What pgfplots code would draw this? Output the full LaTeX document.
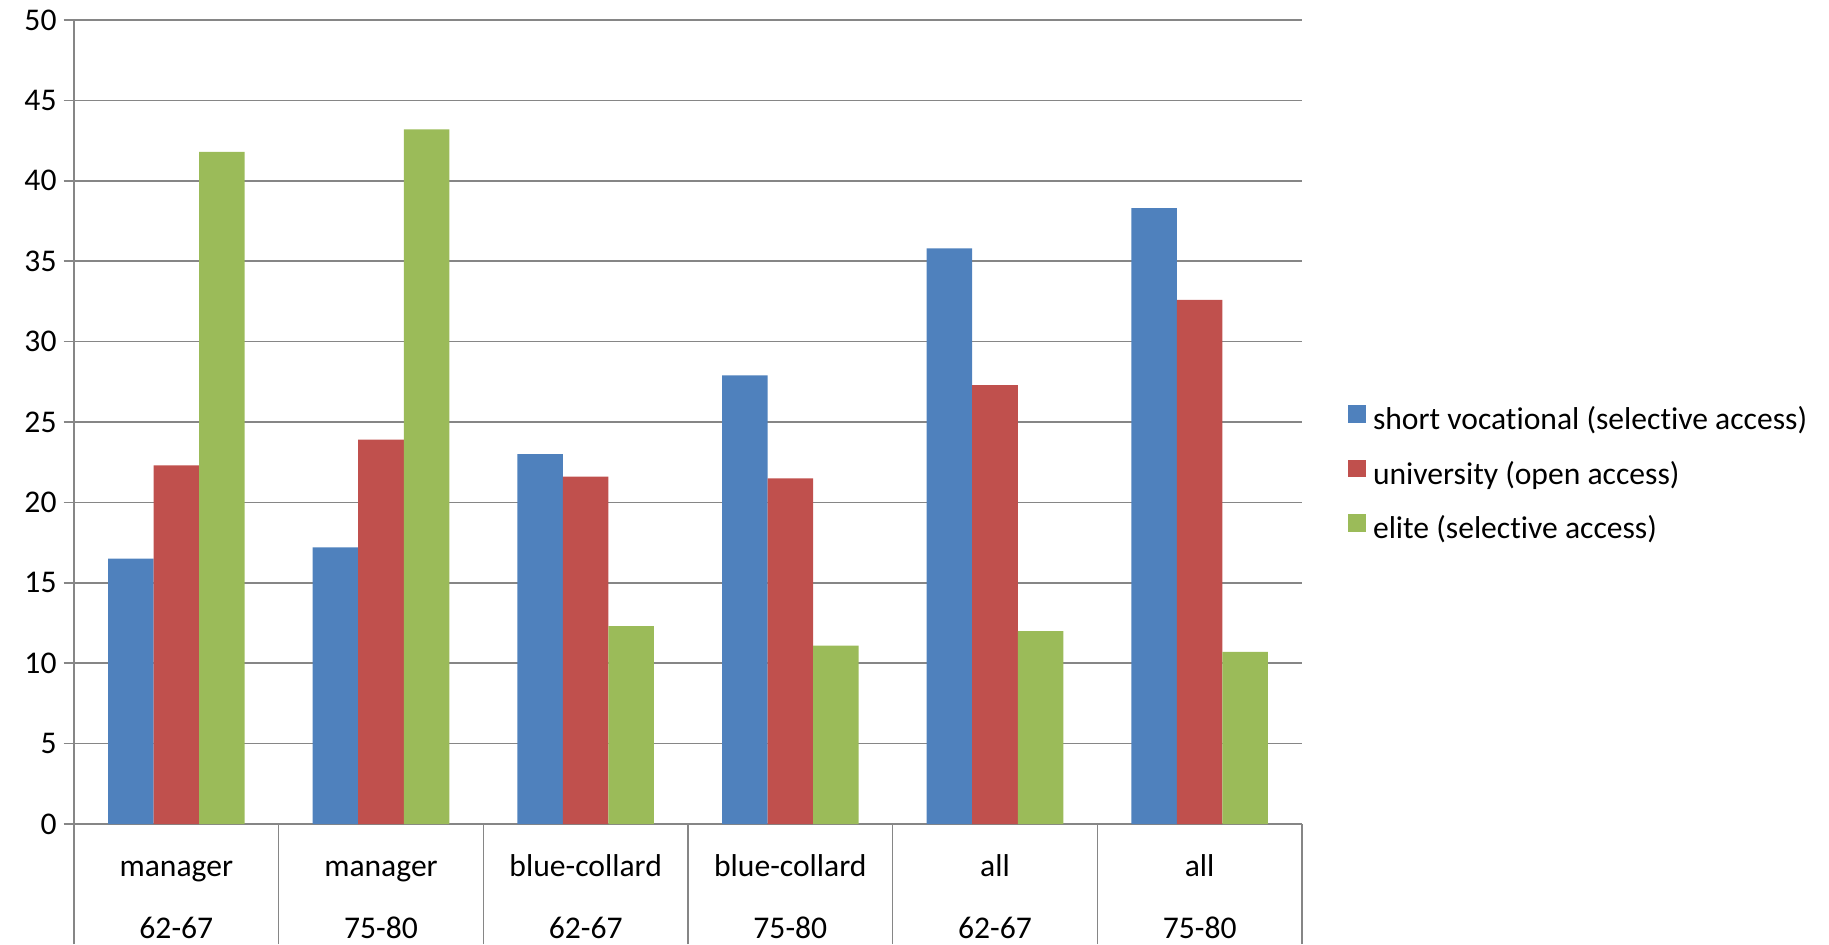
\documentclass[border=0pt]{standalone}
\usepackage{fontspec}
\setmainfont{Carlito}[Ligatures=NoCommon]
\usepackage{pgfplots}
\usepackage{pgfplotstable}
\pgfplotsset{compat=1.18}

\definecolor{svblue}{HTML}{4F81BD}
\definecolor{unired}{HTML}{C0504D}
\definecolor{elgreen}{HTML}{9BBB59}
\definecolor{gridgray}{HTML}{868686}

% share of graduates by type of higher education
\pgfplotstableread{
idx voc  uni  elite
0   16.5 22.3 41.8
1   17.2 23.9 43.2
2   23.0 21.6 12.3
3   27.9 21.5 11.1
4   35.8 27.3 12.0
5   38.3 32.6 10.7
}\shares

\newcommand\cat[2]{\rule{0pt}{12pt}#1\\#2}

\begin{document}
\begin{tikzpicture}
\begin{axis}[
  scale only axis, width=614pt, height=402pt,
  xmin=-0.5, xmax=5.5, ymin=0, ymax=50,
  ybar=0pt, bar width=0.2225,
  axis lines*=left,
  axis line style={gridgray, line width=0.75pt},
  ytick={0,5,...,50},
  ymajorgrids, grid style={gridgray, line width=0.75pt},
  tick align=outside, major tick length=5.2pt,
  ytick style={gridgray, line width=0.75pt},
  yticklabel style={font=\fontsize{15.8}{19}\selectfont, text=black},
  /pgf/number format/assume math mode=true,
  xtick={0,...,5},
  xticklabels={\cat{manager}{62-67},\cat{manager}{75-80},\cat{blue-collard}{62-67},\cat{blue-collard}{75-80},\cat{all}{62-67},\cat{all}{75-80}},
  xticklabel style={align=center, anchor=north, inner sep=0pt, yshift=-8.75pt, font=\fontsize{15.8}{31}\selectfont},
  xtick style={draw=none},
  extra x ticks={-0.5,0.5,1.5,2.5,3.5,4.5,5.5},
  extra x tick labels={},
  extra x tick style={grid=none, major tick length=60pt, xtick style={draw=gridgray, line width=0.75pt}},
  legend style={at={(axis description cs:1,0.4373)}, anchor=west, xshift=19.8pt, yshift=-1.75pt,
    draw=none, fill=none, font=\fontsize{15.8}{19}\selectfont,
    row sep=11pt, nodes={inner sep=0pt, text height=12pt, text depth=4pt},
    column sep=3.7pt},
  legend cell align=left,
  legend image code/.code={\fill[#1] (0pt,-0.5pt) rectangle (8.8pt,8.3pt);},
]
\addplot[fill=svblue, draw=none] table[x=idx, y=voc] {\shares};
\addplot[fill=unired, draw=none] table[x=idx, y=uni] {\shares};
\addplot[fill=elgreen, draw=none] table[x=idx, y=elite] {\shares};
\legend{short vocational (selective access), university (open access), elite (selective access)}
\end{axis}
\pgfresetboundingbox
\path (-37pt,-60pt) rectangle (877.5pt,412pt);
\end{tikzpicture}
\end{document}
